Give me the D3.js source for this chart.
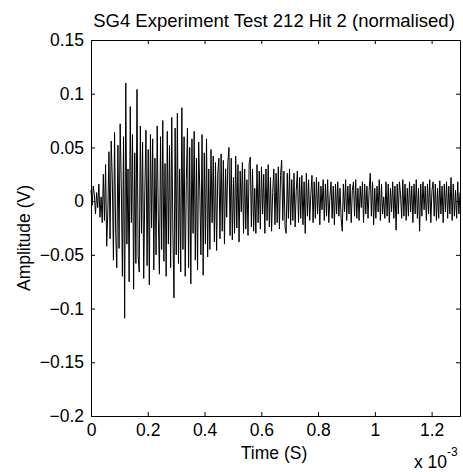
<!DOCTYPE html>
<html>
<head>
<meta charset="utf-8">
<script src="https://cdn.jsdelivr.net/npm/d3@7"></script>
<style>
  body { margin: 0; background: #fff; }
  text { font-family: "Liberation Sans", Arial, sans-serif; fill: #000; }
</style>
</head>
<body>
<div id="chart"></div>
<script>
// sample spacing of the recorded signal (seconds)
const SAMPLE_STEP = 1.3e-3 / 329;

// amplitude readings (V), one per sample
const amplitude = [
  0.010, -0.004, 0.014, 0.006, -0.012, 0.008, -0.006, 0.016, -0.015, 0.004,
  -0.020, 0.025, -0.018, 0.034, -0.042, -0.010, 0.046, -0.035, 0.056, 0.020,
  -0.055, 0.064, -0.030, -0.062, 0.052, -0.044, 0.072, 0.015, -0.070, 0.060,
  -0.109, 0.110, -0.040, 0.030, -0.075, 0.088, -0.020, 0.062, -0.082, 0.045,
  -0.058, 0.104, -0.050, -0.066, 0.070, -0.030, 0.055, -0.072, 0.010, 0.066,
  -0.060, 0.048, -0.078, 0.062, -0.025, 0.058, -0.064, 0.040, -0.050, 0.070,
  -0.015, -0.068, 0.060, -0.045, 0.075, -0.056, 0.035, -0.070, 0.065, -0.040,
  0.052, -0.062, 0.078, -0.030, -0.090, 0.068, -0.050, 0.082, -0.058, 0.030,
  -0.066, 0.087, -0.045, 0.060, -0.070, 0.020, 0.068, -0.062, 0.050, -0.077,
  0.058, -0.030, 0.065, -0.055, 0.040, -0.064, 0.055, 0.010, -0.050, 0.062,
  -0.069, 0.045, -0.040, 0.058, -0.052, 0.030, -0.045, 0.048, -0.020, 0.042,
  -0.038, 0.036, -0.046, 0.025, 0.040, -0.035, 0.044, -0.028, 0.038, -0.040,
  0.030, -0.015, 0.036, 0.050, -0.032, 0.040, -0.036, 0.022, -0.030, 0.042,
  -0.025, 0.034, -0.038, 0.028, -0.010, 0.036, -0.030, 0.030, -0.026, 0.020,
  -0.032, 0.035, 0.041, -0.024, 0.030, -0.028, 0.012, -0.030, 0.034, -0.020,
  0.028, -0.026, 0.032, -0.012, 0.025, -0.030, 0.030, -0.018, 0.034, -0.024,
  0.022, -0.028, 0.008, 0.030, -0.022, 0.026, -0.020, 0.032, -0.026, 0.024,
  0.038, -0.018, 0.028, -0.024, -0.030, 0.026, -0.016, 0.030, -0.022, 0.020,
  -0.018, 0.026, -0.024, 0.010, 0.028, -0.020, 0.022, -0.016, 0.024, -0.022,
  0.018, -0.030, 0.026, -0.014, 0.020, -0.018, 0.006, 0.024, -0.020, 0.018,
  -0.016, 0.022, -0.012, 0.018, -0.022, 0.014, -0.008, 0.020, -0.018, 0.016,
  -0.014, 0.020, -0.020, 0.004, 0.018, -0.016, 0.014, -0.022, 0.016, -0.012,
  0.018, -0.014, 0.012, -0.016, -0.028, 0.016, -0.010, 0.020, -0.018, 0.014,
  -0.012, 0.016, -0.020, 0.010, 0.018, -0.014, 0.020, -0.016, 0.012, -0.018,
  0.014, -0.006, 0.018, -0.020, 0.016, -0.012, 0.014, -0.016, 0.010, 0.026,
  -0.014, 0.018, -0.022, 0.012, -0.016, 0.014, -0.010, 0.020, -0.018, 0.016,
  -0.012, 0.004, -0.016, 0.018, -0.014, 0.016, -0.020, 0.012, -0.010, 0.018,
  -0.016, 0.014, -0.027, 0.016, -0.012, 0.018, 0.006, -0.016, 0.020, -0.014,
  0.016, -0.018, 0.012, -0.014, 0.018, -0.010, 0.014, -0.020, 0.016, -0.012,
  0.020, -0.016, 0.012, -0.028, 0.016, -0.014, 0.018, -0.008, 0.014, -0.018,
  0.016, -0.012, 0.020, -0.020, 0.010, 0.018, -0.014, 0.016, -0.018, 0.012,
  -0.016, 0.019, -0.012, 0.014, -0.020, 0.016, -0.010, 0.018, -0.016, 0.014,
  -0.012, 0.022, -0.018, 0.016, -0.014, 0.010, -0.016, 0.018, -0.012, 0.008
];

const xTicks = [0, 0.2e-3, 0.4e-3, 0.6e-3, 0.8e-3, 1e-3, 1.2e-3];
const yTicks = [-0.2, -0.15, -0.1, -0.05, 0, 0.05, 0.1, 0.15];

const MARGIN = { top: 40, right: 3, bottom: 56, left: 91 };
const WIDTH = 463 - MARGIN.left - MARGIN.right;
const HEIGHT = 472 - MARGIN.top - MARGIN.bottom;
const FONT = 17.5;

let svg = d3.select('#chart')
  .append('svg')
  .attr('width', 463)
  .attr('height', 472);

let g = svg.append('g')
  .attr('transform', 'translate(' + MARGIN.left + ',' + MARGIN.top + ')');

let x = d3.scaleLinear().domain([0, 1.3e-3]).range([0, WIDTH]);
let y = d3.scaleLinear().domain([-0.2, 0.15]).range([HEIGHT, 0]);

// axes with inward ticks, matlab style box
g.append('g')
  .attr('transform', 'translate(0,' + HEIGHT + ')')
  .call(d3.axisBottom(x).tickValues(xTicks).tickSizeInner(-4).tickSizeOuter(0)
    .tickPadding(8).tickFormat((d) => d3.format('~g')(+(d * 1000).toFixed(2))));

g.append('g')
  .call(d3.axisLeft(y).tickValues(yTicks).tickSizeInner(-4).tickSizeOuter(0)
    .tickPadding(7).tickFormat((d) => d3.format('~g')(+d.toFixed(2))));

g.append('g')
  .call(d3.axisTop(x).tickValues(xTicks).tickSizeInner(-4).tickSizeOuter(0).tickFormat(''));

g.append('g')
  .attr('transform', 'translate(' + WIDTH + ',0)')
  .call(d3.axisRight(y).tickValues(yTicks).tickSizeInner(-4).tickSizeOuter(0).tickFormat(''));

g.selectAll('.domain').attr('stroke', '#000').attr('stroke-width', 1);
g.selectAll('.tick line').attr('stroke', '#000');
g.selectAll('.tick text')
  .style('font-family', '"Liberation Sans", Arial, sans-serif')
  .style('font-size', FONT + 'px')
  .attr('fill', '#000');

// the signal
g.append('path')
  .datum(amplitude)
  .attr('fill', 'none')
  .attr('stroke', '#000')
  .attr('stroke-width', 1)
  .attr('d', d3.line()
    .x((d, i) => x(i * SAMPLE_STEP))
    .y((d) => y(d)));

// labels
svg.append('text')
  .attr('x', 274)
  .attr('y', 27)
  .attr('text-anchor', 'middle')
  .style('font-size', '18.5px')
  .text('SG4 Experiment Test 212 Hit 2 (normalised)');

svg.append('text')
  .attr('x', 274)
  .attr('y', 459)
  .attr('text-anchor', 'middle')
  .style('font-size', FONT + 'px')
  .text('Time (S)');

let mult = svg.append('text')
  .attr('x', 414)
  .attr('y', 468)
  .style('font-size', FONT + 'px');
mult.append('tspan').text('x 10');
mult.append('tspan')
  .attr('dy', -12)
  .style('font-size', '12px')
  .text('-3');

svg.append('text')
  .attr('transform', 'translate(30,238) rotate(-90)')
  .attr('text-anchor', 'middle')
  .style('font-size', FONT + 'px')
  .text('Amplitude (V)');
</script>
</body>
</html>
